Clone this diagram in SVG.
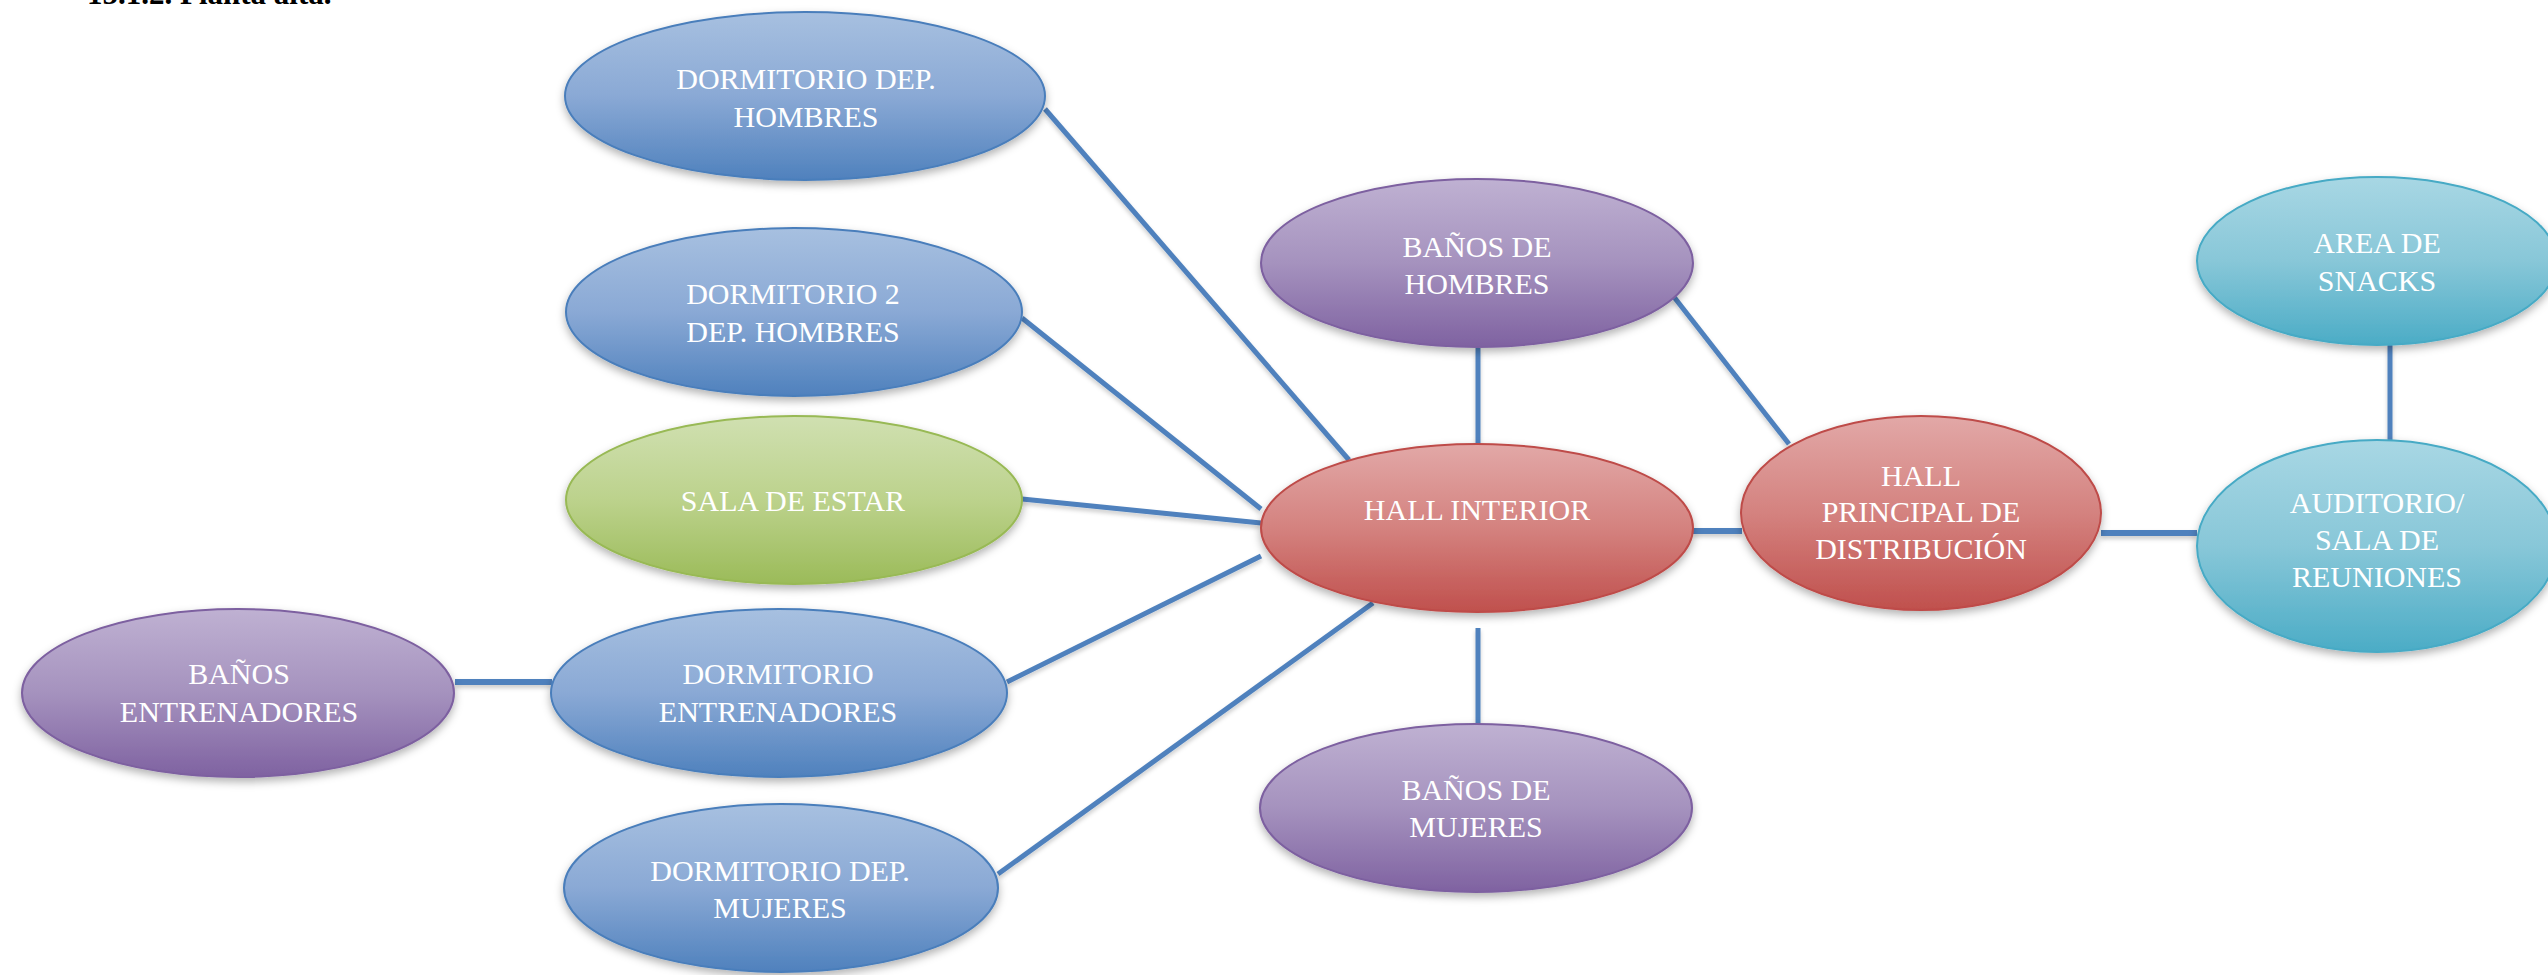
<svg xmlns="http://www.w3.org/2000/svg" width="2548" height="975" viewBox="0 0 2548 975">
<style>
.lbl{font-family:"Liberation Serif","DejaVu Serif",serif;font-size:30px;fill:#ffffff;text-anchor:middle}
.title{font-family:"Liberation Serif","DejaVu Serif",serif;font-size:31px;font-weight:bold;fill:#000000}
.c{stroke:#4F81BD;stroke-width:5;fill:none}
.ct{stroke:#4F81BD;stroke-width:6;fill:none}
.blue{fill:url(#gBlue);stroke:#4A7EBB;stroke-width:2}
.purple{fill:url(#gPurple);stroke:#7D60A0;stroke-width:2}
.red{fill:url(#gRed);stroke:#BE4B48;stroke-width:2}
.green{fill:url(#gGreen);stroke:#98B954;stroke-width:2}
.aqua{fill:url(#gAqua);stroke:#46AAC5;stroke-width:2}
</style>
<defs>
<linearGradient id="gBlue" x1="0" y1="0" x2="0" y2="1"><stop offset="0" stop-color="#A7C0E0"/><stop offset="0.5" stop-color="#8AA9D5"/><stop offset="1" stop-color="#4F81BD"/></linearGradient>
<linearGradient id="gPurple" x1="0" y1="0" x2="0" y2="1"><stop offset="0" stop-color="#BFB1D2"/><stop offset="0.5" stop-color="#A592BE"/><stop offset="1" stop-color="#7F62A1"/></linearGradient>
<linearGradient id="gRed" x1="0" y1="0" x2="0" y2="1"><stop offset="0" stop-color="#E2A8A7"/><stop offset="0.5" stop-color="#D4827F"/><stop offset="1" stop-color="#C0504D"/></linearGradient>
<linearGradient id="gGreen" x1="0" y1="0" x2="0" y2="1"><stop offset="0" stop-color="#D0E0B1"/><stop offset="0.5" stop-color="#BCD28C"/><stop offset="1" stop-color="#9BBB59"/></linearGradient>
<linearGradient id="gAqua" x1="0" y1="0" x2="0" y2="1"><stop offset="0" stop-color="#A8D7E4"/><stop offset="0.5" stop-color="#88C7D8"/><stop offset="1" stop-color="#4BACC6"/></linearGradient>
<filter id="sh" x="-10%" y="-10%" width="120%" height="130%"><feDropShadow dx="0" dy="4" stdDeviation="4" flood-color="#000" flood-opacity="0.3"/></filter>
<filter id="lsh" x="-20%" y="-20%" width="140%" height="140%"><feDropShadow dx="0" dy="3" stdDeviation="2" flood-color="#000" flood-opacity="0.2"/></filter>
</defs>
<rect width="2548" height="975" fill="#ffffff"/>
<text class="title" x="87" y="4">15.1.2. Planta alta.</text>

<g id="connectors" filter="url(#lsh)">
<line class="c" x1="1045" y1="109" x2="1349" y2="460"/>
<line class="c" x1="1022" y1="318" x2="1261" y2="509"/>
<line class="c" x1="1022" y1="499" x2="1261" y2="523"/>
<line class="c" x1="1007" y1="682" x2="1261" y2="556"/>
<line class="c" x1="998" y1="874" x2="1373" y2="603"/>
<line class="ct" x1="455" y1="682" x2="552" y2="682"/>
<line class="c" x1="1478" y1="348" x2="1478" y2="445"/>
<line class="c" x1="1674" y1="297" x2="1789" y2="444"/>
<line class="c" x1="1478" y1="628" x2="1478" y2="725"/>
<line class="ct" x1="1693" y1="531" x2="1742" y2="531"/>
<line class="ct" x1="2101" y1="533" x2="2197" y2="533"/>
<line class="c" x1="2390" y1="344" x2="2390" y2="440"/>
</g>

<g id="dorm-dep-hombres">
<ellipse class="blue" filter="url(#sh)" cx="805" cy="96" rx="240" ry="84"/>
<text class="lbl" x="806" y="89">DORMITORIO DEP.</text>
<text class="lbl" x="806" y="127">HOMBRES</text>
</g>
<g id="dorm2-dep-hombres">
<ellipse class="blue" filter="url(#sh)" cx="794" cy="312" rx="228" ry="84"/>
<text class="lbl" x="793" y="304">DORMITORIO 2</text>
<text class="lbl" x="793" y="342">DEP. HOMBRES</text>
</g>
<g id="sala-estar">
<ellipse class="green" filter="url(#sh)" cx="794" cy="500" rx="228" ry="84"/>
<text class="lbl" x="793" y="511">SALA DE ESTAR</text>
</g>
<g id="banos-entrenadores">
<ellipse class="purple" filter="url(#sh)" cx="238" cy="693" rx="216" ry="84"/>
<text class="lbl" x="239" y="684">BAÑOS</text>
<text class="lbl" x="239" y="722">ENTRENADORES</text>
</g>
<g id="dorm-entrenadores">
<ellipse class="blue" filter="url(#sh)" cx="779" cy="693" rx="228" ry="84"/>
<text class="lbl" x="778" y="684">DORMITORIO</text>
<text class="lbl" x="778" y="722">ENTRENADORES</text>
</g>
<g id="dorm-dep-mujeres">
<ellipse class="blue" filter="url(#sh)" cx="781" cy="888" rx="217" ry="84"/>
<text class="lbl" x="780" y="881">DORMITORIO DEP.</text>
<text class="lbl" x="780" y="918">MUJERES</text>
</g>
<g id="banos-hombres">
<ellipse class="purple" filter="url(#sh)" cx="1477" cy="263" rx="216" ry="84"/>
<text class="lbl" x="1477" y="257">BAÑOS DE</text>
<text class="lbl" x="1477" y="294">HOMBRES</text>
</g>
<g id="hall-interior">
<ellipse class="red" filter="url(#sh)" cx="1477" cy="528" rx="216" ry="84"/>
<text class="lbl" x="1477" y="520">HALL INTERIOR</text>
</g>
<g id="hall-principal">
<ellipse class="red" filter="url(#sh)" cx="1921" cy="513" rx="180" ry="97"/>
<text class="lbl" x="1921" y="486">HALL</text>
<text class="lbl" x="1921" y="522">PRINCIPAL DE</text>
<text class="lbl" x="1921" y="559">DISTRIBUCIÓN</text>
</g>
<g id="banos-mujeres">
<ellipse class="purple" filter="url(#sh)" cx="1476" cy="808" rx="216" ry="84"/>
<text class="lbl" x="1476" y="800">BAÑOS DE</text>
<text class="lbl" x="1476" y="837">MUJERES</text>
</g>
<g id="area-snacks">
<ellipse class="aqua" filter="url(#sh)" cx="2377" cy="261" rx="180" ry="84"/>
<text class="lbl" x="2377" y="253">AREA DE</text>
<text class="lbl" x="2377" y="291">SNACKS</text>
</g>
<g id="auditorio">
<ellipse class="aqua" filter="url(#sh)" cx="2377" cy="546" rx="180" ry="106"/>
<text class="lbl" x="2377" y="513">AUDITORIO/</text>
<text class="lbl" x="2377" y="550">SALA DE</text>
<text class="lbl" x="2377" y="587">REUNIONES</text>
</g>
</svg>
